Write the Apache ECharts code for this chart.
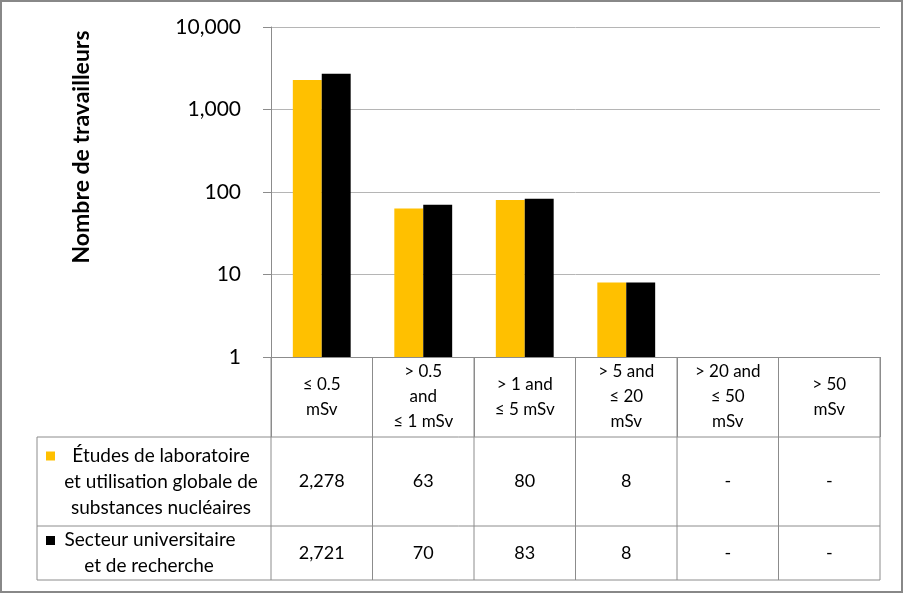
<!DOCTYPE html>
<html><head><meta charset="utf-8">
<script src="https://cdn.jsdelivr.net/npm/echarts@6/dist/echarts.min.js"></script>
<style>html,body{margin:0;padding:0;background:#fff}#c{width:903px;height:593px;box-sizing:border-box;border:2px solid #888}</style>
</head><body><div id="c"></div>
<script>
const categories = ['≤ 0.5\nmSv', '> 0.5\nand\n≤ 1 mSv', '> 1 and\n≤ 5 mSv', '> 5 and\n≤ 20\nmSv', '> 20 and\n≤ 50\nmSv', '> 50\nmSv'];
const seriesNames = ['Études de laboratoire et utilisation globale de substances nucléaires', 'Secteur universitaire et de recherche'];
const labValues = [2278, 63, 80, 8, null, null];
const uniValues = [2721, 70, 83, 8, null, null];
const labTable = ['2,278', '63', '80', '8', '-', '-'];
const uniTable = ['2,721', '70', '83', '8', '-', '-'];
const yTicks = [1, 10, 100, 1000, 10000];
const colors = ['#FFC000', '#000000'];
const FONT = 'Lato, "Open Sans", sans-serif';
const GRAY = '#8c8c8c';

const chart = echarts.init(document.getElementById('c'), null, {renderer: 'canvas'});
const fmt = v => Number(v).toLocaleString('en-US');
chart.setOption({
  animation: false,
  textStyle: {fontFamily: FONT},
  grid: {left: 269, right: 21, top: 25, bottom: 234, containLabel: false},
  xAxis: {
    type: 'category', data: categories,
    axisLine: {lineStyle: {color: GRAY, width: 1}},
    axisTick: {show: true, length: 80, inside: false, alignWithLabel: false, lineStyle: {color: GRAY}},
    axisLabel: {interval: 0, margin: 40, verticalAlign: 'middle', lineHeight: 25, fontSize: 17, color: '#000', fontFamily: FONT}
  },
  yAxis: {
    type: 'log', logBase: 10, min: yTicks[0], max: yTicks[yTicks.length - 1],
    axisLine: {show: true, lineStyle: {color: GRAY}},
    axisTick: {show: true, length: 8, lineStyle: {color: GRAY}},
    axisLabel: {margin: 30, fontSize: 21, color: '#000', fontFamily: FONT, formatter: v => fmt(v)},
    splitLine: {lineStyle: {color: '#b5b5b5'}},
    minorTick: {show: false}
  },
  series: [
    {name: seriesNames[0], type: 'bar', data: labValues, itemStyle: {color: colors[0]}, barGap: '0%', barCategoryGap: '43%'},
    {name: seriesNames[1], type: 'bar', data: uniValues, itemStyle: {color: colors[1]}, barGap: '0%', barCategoryGap: '43%'}
  ]
});

function drawTable() {
  const x0 = chart.convertToPixel({xAxisIndex: 0}, 0);
  const x1 = chart.convertToPixel({xAxisIndex: 0}, 1);
  const bw = x1 - x0;
  const left = x0 - bw / 2;
  const right = left + bw * categories.length;
  const yAxisBottom = chart.convertToPixel({yAxisIndex: 0}, yTicks[0]);
  const rowTop1 = yAxisBottom + 80;
  const rowTop2 = rowTop1 + 89;
  const rowBottom = rowTop2 + 54;
  const tableLeft = 35;
  const g = [];
  const line = (xa, ya, xb, yb) => g.push({type: 'line', shape: {x1: xa, y1: ya, x2: xb, y2: yb}, style: {stroke: GRAY, lineWidth: 1}, silent: true});
  line(tableLeft, rowTop1, right, rowTop1);
  line(tableLeft, rowTop2, right, rowTop2);
  line(tableLeft, rowBottom, right, rowBottom);
  line(tableLeft, rowTop1, tableLeft, rowBottom);
  for (let i = 0; i <= categories.length; i++) {
    const x = left + bw * i;
    line(x, yAxisBottom, x, rowBottom);
  }
  const txt = (x, y, s, size) => g.push({type: 'text', x: x, y: y, style: {text: s, fill: '#000', font: (size || 18) + 'px ' + FONT, textAlign: 'center', textVerticalAlign: 'middle'}, silent: true});
  const c1 = (rowTop1 + rowTop2) / 2, c2 = (rowTop2 + rowBottom) / 2;
  for (let i = 0; i < categories.length; i++) {
    const cx = left + bw * (i + 0.5);
    txt(cx, c1, labTable[i], 18);
    txt(cx, c2, uniTable[i], 18);
  }
  g.push({type: 'rect', shape: {x: 44, y: c1 - 30, width: 9, height: 9}, style: {fill: colors[0]}, silent: true});
  txt(159, c1 - 26, 'Études de laboratoire', 19);
  txt(159, c1, 'et utilisation globale de', 19);
  txt(159, c1 + 26, 'substances nucléaires', 19);
  g.push({type: 'rect', shape: {x: 44, y: c2 - 17, width: 9, height: 9}, style: {fill: colors[1]}, silent: true});
  txt(148, c2 - 13, 'Secteur universitaire', 19);
  txt(147, c2 + 13, 'et de recherche', 19);
  g.push({type: 'text', x: 80, y: 145, rotation: Math.PI / 2, style: {text: 'Nombre de travailleurs', fill: '#000', font: 'bold 23px ' + FONT, textAlign: 'center', textVerticalAlign: 'middle'}, silent: true});
  chart.setOption({graphic: g});
}
drawTable();
</script></body></html>
